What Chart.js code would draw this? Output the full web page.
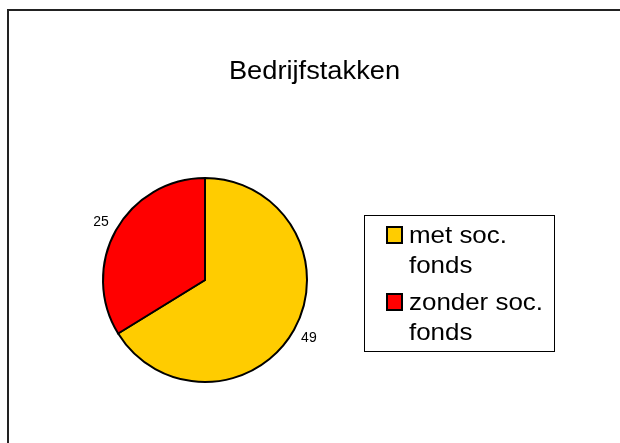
<!DOCTYPE html>
<html>
<head>
<meta charset="utf-8">
<script src="https://cdn.jsdelivr.net/npm/chart.js@4"></script>
<style>
  html, body { margin: 0; padding: 0; background: #fff; }
  #c { display: block; }
</style>
</head>
<body>
<canvas id="c" width="620" height="443"></canvas>
<script>
const chartTitle = 'Bedrijfstakken';
const categories = ['met soc. fonds', 'zonder soc. fonds'];
const legendLines = [['met soc.', 'fonds'], ['zonder soc.', 'fonds']];
const values = [49, 25];
const sliceColors = ['#FFCC00', '#FF0000'];

const FONT = '"Liberation Sans", Arial, sans-serif';

const decorPlugin = {
  id: 'decor',
  afterDraw(chart) {
    const ctx = chart.ctx;
    ctx.save();
    // outer frame
    ctx.strokeStyle = '#222';
    ctx.lineWidth = 2;
    ctx.strokeRect(8, 10, 700, 500);

    // title
    ctx.fillStyle = '#000';
    ctx.font = '25px ' + FONT;
    ctx.textAlign = 'center';
    ctx.textBaseline = 'alphabetic';
    ctx.save();
    ctx.translate(314.5, 79);
    ctx.scale(1.09, 1);
    ctx.fillText(chartTitle, 0, 0);
    ctx.restore();

    // data labels
    const meta = chart.getDatasetMeta(0);
    ctx.font = '14px ' + FONT;
    ctx.textAlign = 'center';
    ctx.textBaseline = 'middle';
    meta.data.forEach((arc, i) => {
      const p = arc.getProps(['x', 'y', 'startAngle', 'endAngle', 'outerRadius'], true);
      const mid = (p.startAngle + p.endAngle) / 2;
      const r = p.outerRadius + 17;
      ctx.fillText(String(chart.data.datasets[0].data[i]), p.x + Math.cos(mid) * r, p.y + Math.sin(mid) * r);
    });

    // legend
    ctx.strokeStyle = '#000';
    ctx.lineWidth = 1;
    ctx.strokeRect(364.5, 215.5, 190, 136);
    ctx.font = '24px ' + FONT;
    ctx.textAlign = 'left';
    ctx.textBaseline = 'alphabetic';
    const colors = chart.data.datasets[0].backgroundColor;
    legendLines.forEach((lines, i) => {
      const base = 243 + i * 67;
      ctx.fillStyle = colors[i];
      ctx.fillRect(387, base - 16, 15, 16);
      ctx.strokeStyle = '#000';
      ctx.lineWidth = 2;
      ctx.strokeRect(387, base - 16, 15, 16);
      ctx.fillStyle = '#000';
      lines.forEach((t, j) => {
        ctx.save();
        ctx.translate(409, base + j * 30);
        ctx.scale(1.08, 1);
        ctx.fillText(t, 0, 0);
        ctx.restore();
      });
    });
    ctx.restore();
  }
};

new Chart(document.getElementById('c'), {
  type: 'pie',
  data: {
    labels: categories,
    datasets: [{
      data: values,
      backgroundColor: sliceColors,
      borderColor: '#000',
      borderWidth: 2,
      borderJoinStyle: 'miter'
    }]
  },
  options: {
    responsive: false,
    animation: false,
    layout: { padding: { left: 102, top: 177, right: 312, bottom: 60 } },
    plugins: {
      legend: { display: false },
      tooltip: { enabled: false },
      title: { display: false }
    }
  },
  plugins: [decorPlugin]
});
</script>
</body>
</html>
